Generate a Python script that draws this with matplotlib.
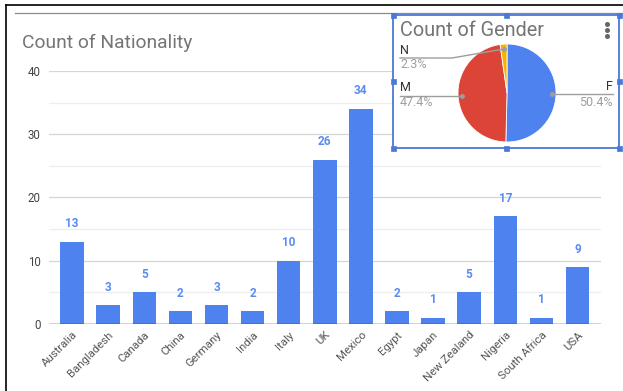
import matplotlib
matplotlib.use("Agg")
import matplotlib.pyplot as plt
from matplotlib.patches import Rectangle
from matplotlib.lines import Line2D
from matplotlib.transforms import Affine2D
import numpy as np

plt.rcParams['font.family'] = ['Roboto', 'DejaVu Sans']

# ---- data ----
countries = ["Australia", "Bangladesh", "Canada", "China", "Germany", "India", "Italy",
             "UK", "Mexico", "Egypt", "Japan", "New Zealand", "Nigeria", "South Africa", "USA"]
counts = [13, 3, 5, 2, 3, 2, 10, 26, 34, 2, 1, 5, 17, 1, 9]
y_ticks = [0, 10, 20, 30, 40]

genders = ["F", "M", "N"]
gender_counts = [67, 63, 3]
gender_pct_labels = ["50.4%", "47.4%", "2.3%"]

bar_title = "Count of Nationality"
pie_title = "Count of Gender"

# ---- styles ----
W, H = 623, 391
BLUE = "#4e82ee"
PIE_COLORS = ["#4e82ee", "#db4437", "#f4b400"]
SEL = "#4a78d6"

fig = plt.figure(figsize=(W / 100, H / 100), dpi=100)
fig.patch.set_facecolor("white")

# pixel transform (origin top-left)
pix = Affine2D().scale(1 / W, -1 / H).translate(0, 1) + fig.transFigure


def fbox(x0, y0, x1, y1):
    return [x0 / W, (H - y1) / H, (x1 - x0) / W, (y1 - y0) / H]


# ---- bar chart ----
ax = fig.add_axes(fbox(49, 71, 601, 324))
x = np.arange(len(countries))
bars = ax.bar(x, counts, width=0.65, color=BLUE, zorder=3)
ax.set_xlim(-0.64, len(countries) - 1 + 0.65)
ax.set_ylim(0, 40)
ax.set_yticks(y_ticks)
ax.set_yticklabels([str(v) for v in y_ticks])
ax.set_yticks([5, 15, 25, 35], minor=True)
ax.grid(axis="y", which="major", color="#d6d6d6", linewidth=0.9, zorder=0)
ax.grid(axis="y", which="minor", color="#eeeeee", linewidth=0.9, zorder=0)
ax.axhline(0, color="#333333", linewidth=1.0, zorder=4)
for s in ax.spines.values():
    s.set_visible(False)
ax.tick_params(axis="both", which="both", length=0)
ax.tick_params(axis="y", labelsize=8.3, labelcolor="#444444", pad=6)
ax.set_xticks(x)
ax.set_xticklabels(countries, rotation=45, ha="right", va="top",
                   rotation_mode="anchor", fontsize=8.2, color="#555555")
ax.tick_params(axis="x", pad=4)
for xi, v in zip(x, counts):
    ax.annotate(str(v), (xi, v), xytext=(0, 18), textcoords="offset pixels",
                ha="center", va="center", fontsize=8.5, fontweight="bold",
                color="#5a8cf2", zorder=5)

fig.text(22 / W, 1 - 43 / H, bar_title, fontsize=13.9, color="#757575",
         ha="left", va="center")

# ---- outer frame lines ----
fig.add_artist(Line2D([6, W], [5, 5], transform=pix, color="black", linewidth=1.2))
fig.add_artist(Line2D([6, 6], [5, H], transform=pix, color="black", linewidth=1.2))
fig.add_artist(Line2D([15, W], [13, 13], transform=pix, color="#8a8a8a", linewidth=0.9))

# ---- pie chart box ----
bx0, by0, bx1, by1 = 393, 15, 619, 148
fig.add_artist(Rectangle((bx0, by0), bx1 - bx0, by1 - by0, transform=pix,
                         facecolor="white", edgecolor=SEL, linewidth=1.3, zorder=2))
hs = 5
for hx in (bx0, (bx0 + bx1) / 2, bx1):
    for hy in (by0, (by0 + by1) / 2, by1):
        if hx == (bx0 + bx1) / 2 and hy == (by0 + by1) / 2:
            continue
        fig.add_artist(Rectangle((hx - hs / 2, hy - hs / 2), hs, hs, transform=pix,
                                 facecolor=SEL, edgecolor=SEL, linewidth=0.5, zorder=6))

fig.text(400 / W, 1 - 31 / H, pie_title, fontsize=14.3, color="#757575",
         ha="left", va="center", zorder=7)
for dy in (-6, 0, 6):
    fig.add_artist(Line2D([607], [30 + dy], transform=pix, marker="o", markersize=2.6,
                          color="#666666", linestyle="none", zorder=7))

pcx, pcy, pr = 507, 93, 49
axp = fig.add_axes(fbox(pcx - pr, pcy - pr, pcx + pr, pcy + pr))
axp.set_zorder(5)
wedges, _ = axp.pie(gender_counts, colors=PIE_COLORS, startangle=90, counterclock=False,
                    wedgeprops=dict(linewidth=0.6, edgecolor="white"))
axp.set_xlim(-1, 1)
axp.set_ylim(-1, 1)
axp.set_aspect("equal")
axp.axis("off")

# leader lines / labels
total = sum(gender_counts)
cum = np.cumsum([0] + gender_counts)
to_fig = axp.transData + pix.inverted()


def anchor(i, r=0.92):
    mid = (cum[i] + cum[i + 1]) / 2 / total * 360
    ang = np.deg2rad(90 - mid)
    return to_fig.transform((r * np.cos(ang), r * np.sin(ang)))


LC = "#9e9e9e"
LFS = 9
# F (right)
px, py = anchor(0)
fig.add_artist(Line2D([px, 613], [py, py], transform=pix, color=LC, linewidth=1, zorder=7))
fig.add_artist(Line2D([px], [py], transform=pix, marker="o", markersize=2.5, color=LC, zorder=7))
fig.text(613 / W, 1 - (py - 7) / H, genders[0], fontsize=LFS, color="#333333",
         ha="right", va="center", zorder=7)
fig.text(613 / W, 1 - (py + 9) / H, gender_pct_labels[0], fontsize=LFS, color="#9e9e9e",
         ha="right", va="center", zorder=7)
# M (left)
px, py = anchor(1)
fig.add_artist(Line2D([400, px], [py, py], transform=pix, color=LC, linewidth=1, zorder=7))
fig.add_artist(Line2D([px], [py], transform=pix, marker="o", markersize=2.5, color=LC, zorder=7))
fig.text(400 / W, 1 - (py - 8) / H, genders[1], fontsize=LFS, color="#333333",
         ha="left", va="center", zorder=7)
fig.text(400 / W, 1 - (py + 7) / H, gender_pct_labels[1], fontsize=LFS, color="#9e9e9e",
         ha="left", va="center", zorder=7)
# N (upper left, bent line)
px, py = anchor(2, r=0.9)
ly = 58
fig.add_artist(Line2D([400, 452, px], [ly, ly, py], transform=pix, color=LC,
                      linewidth=1, zorder=7))
fig.add_artist(Line2D([px], [py], transform=pix, marker="o", markersize=2.5, color=LC, zorder=7))
fig.text(400 / W, 1 - (ly - 7) / H, genders[2], fontsize=LFS, color="#333333",
         ha="left", va="center", zorder=7)
fig.text(400 / W, 1 - (ly + 7) / H, gender_pct_labels[2], fontsize=LFS, color="#9e9e9e",
         ha="left", va="center", zorder=7)

fig.savefig("out.png", dpi=100, facecolor="white")
